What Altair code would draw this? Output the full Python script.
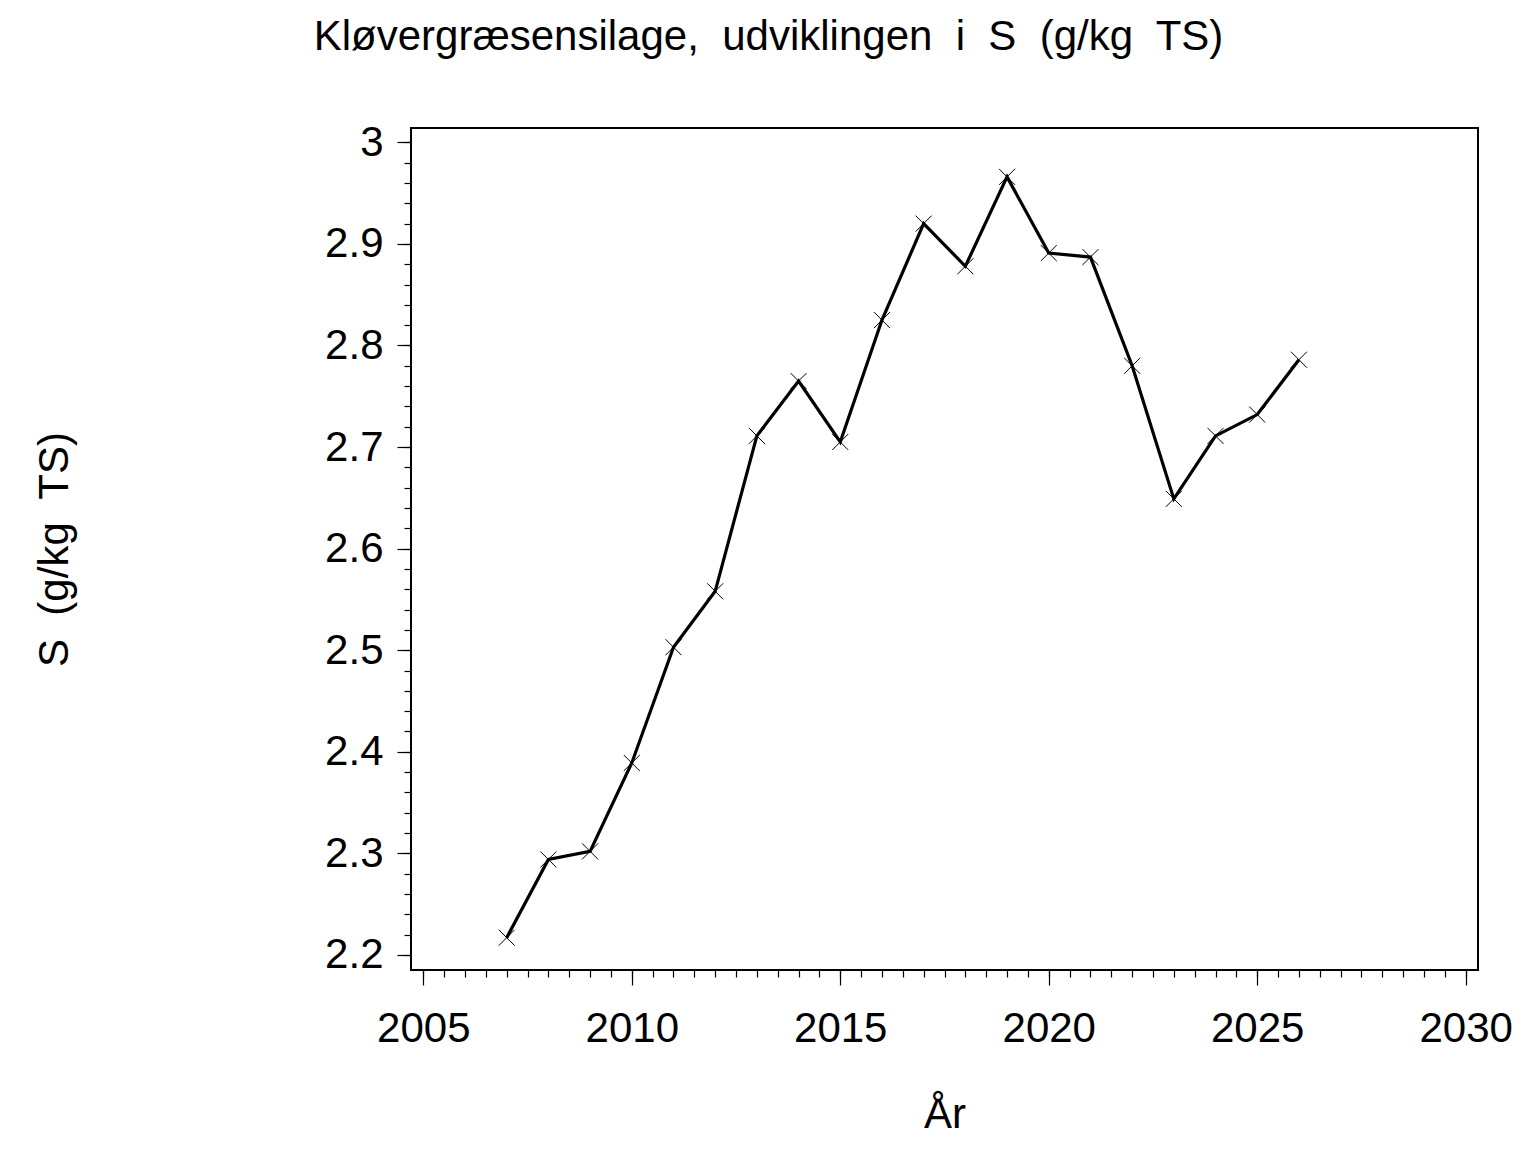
import altair as alt
import pandas as pd
import numpy as np

# ---- data ----
years = [2007, 2008, 2009, 2010, 2011, 2012, 2013, 2014, 2015, 2016,
         2017, 2018, 2019, 2020, 2021, 2022, 2023, 2024, 2025, 2026]
s_values = [2.217, 2.294, 2.302, 2.389, 2.503, 2.558, 2.711, 2.765, 2.705, 2.825,
            2.920, 2.878, 2.966, 2.891, 2.887, 2.780, 2.649, 2.711, 2.732, 2.786]

x_major = [2005, 2010, 2015, 2020, 2025, 2030]
y_major = [2.2, 2.3, 2.4, 2.5, 2.6, 2.7, 2.8, 2.9, 3.0]
x_minor = [float(v) for v in np.arange(2005, 2030.01, 0.5)]
y_minor = [round(float(v), 2) for v in np.arange(2.2, 3.001, 0.02)]

title_text = "Kløvergræsensilage,\u00a0 udviklingen\u00a0 i\u00a0 S\u00a0 (g/kg\u00a0 TS)"
y_title = "S\u00a0 (g/kg\u00a0 TS)"
x_title = "År"

df = pd.DataFrame({"year": years, "S": s_values})

FONT = "Liberation Sans"
FS = 42
W, H = 1067, 842

xscale = alt.Scale(domain=[2004.705, 2030.295], nice=False, zero=False)
yscale = alt.Scale(domain=[2.1852, 3.0141], nice=False, zero=False)

x_axis_major = alt.Axis(
    values=x_major, format="d", orient="bottom", grid=False, domain=False,
    tickSize=15, tickColor="black", tickWidth=1.2,
    labelFont=FONT, labelFontSize=FS, labelColor="black", labelPadding=23,
    labelFlush=False, labelOverlap=False,
    title=x_title, titleFont=FONT, titleFontSize=FS, titleFontWeight="normal",
    titleColor="black", titleX=W / 2, titleY=157, titleAlign="center",
    titleBaseline="alphabetic", titleAngle=0,
)
y_axis_major = alt.Axis(
    values=y_major, orient="left", grid=False, domain=False,
    labelExpr="datum.value == 3 ? '3' : format(datum.value, '.1f')",
    tickSize=14, tickColor="black", tickWidth=1.2,
    labelFont=FONT, labelFontSize=FS, labelColor="black", labelPadding=14,
    labelFlush=False, labelOverlap=False, labelBaseline="middle",
    title=y_title, titleFont=FONT, titleFontSize=FS, titleFontWeight="normal",
    titleColor="black", titleX=-357, titleY=H / 2, titleAlign="center",
    titleBaseline="middle", titleAngle=270,
)
x_axis_minor = alt.Axis(
    values=x_minor, orient="bottom", grid=False, domain=False, labels=False,
    tickSize=7, tickColor="black", tickWidth=1.2, title=None,
)
y_axis_minor = alt.Axis(
    values=y_minor, orient="left", grid=False, domain=False, labels=False,
    tickSize=7, tickColor="black", tickWidth=1.2, title=None,
)

base = alt.Chart(df)

line = base.mark_line(color="black", strokeWidth=3.2).encode(
    x=alt.X("year:Q", scale=xscale, axis=x_axis_major),
    y=alt.Y("S:Q", scale=yscale, axis=y_axis_major),
)

pts = base.mark_point(
    shape="M-1,-1L1,1M-1,1L1,-1", size=256, filled=False,
    stroke="black", strokeWidth=1, opacity=1,
).encode(
    x=alt.X("year:Q", scale=xscale, axis=x_axis_minor),
    y=alt.Y("S:Q", scale=yscale, axis=y_axis_minor),
)

chart = (
    alt.layer(line, pts)
    .resolve_axis(x="independent", y="independent")
    .properties(
        width=W,
        height=H,
        title=alt.TitleParams(
            text=title_text, font=FONT, fontSize=FS, fontWeight="normal",
            color="black", anchor="middle", frame="group", dx=-176, offset=62,
        ),
        autosize=alt.AutoSizeParams(type="none"),
        padding={"left": 403, "top": 120, "right": 50, "bottom": 174},
        background="white",
    )
    .configure_view(stroke="black", strokeWidth=2)
)

chart.save("out.html", embed_options={"renderer": "svg", "actions": False})
